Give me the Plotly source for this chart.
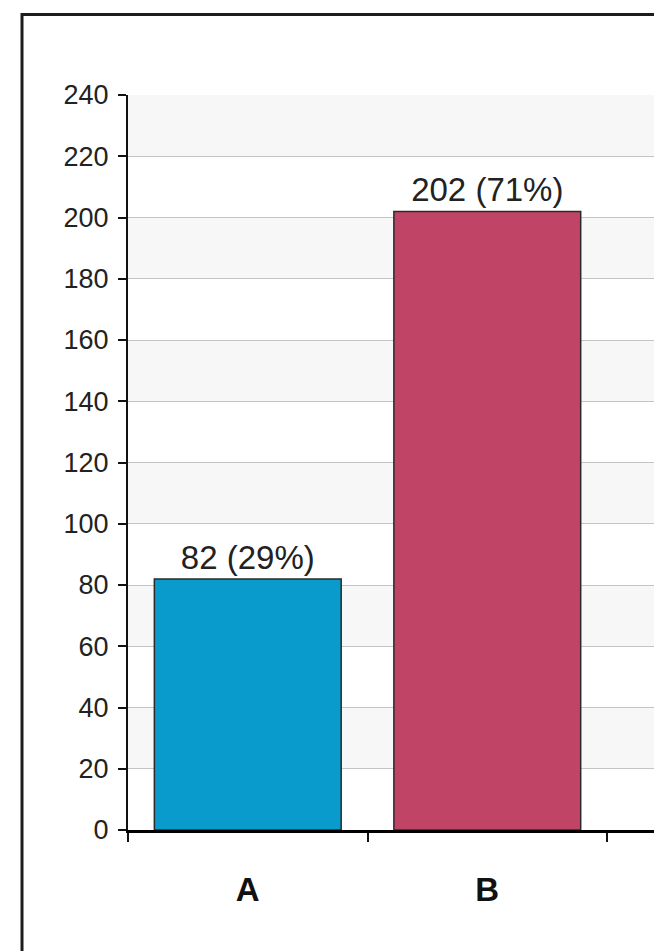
import plotly.graph_objects as go

# Response counts per answer option
categories = ["A", "B"]
counts = [82, 202]
bar_colors = ["#0a9bcd", "#c04465"]

# Value axis ticks
y_ticks = list(range(0, 241, 20))

total = sum(counts)
labels = [f"{c} ({round(100 * c / total)}%)" for c in counts]

fig = go.Figure(
    go.Bar(
        x=categories,
        y=counts,
        width=0.78,
        marker=dict(color=bar_colors, line=dict(color="#2a2a2a", width=1.5)),
        text=labels,
        textposition="outside",
        textfont=dict(family="Liberation Sans", size=33, color="#222222"),
        cliponaxis=False,
    )
)

# Alternating light bands behind the gridlines
shapes = []
for lo, hi in zip(y_ticks[:-1], y_ticks[1:]):
    if (lo // 20) % 2 == 1:
        shapes.append(dict(type="rect", xref="paper", yref="y", x0=0, x1=1,
                           y0=lo, y1=hi, fillcolor="#f7f7f7",
                           line=dict(width=0), layer="below"))

# Outer frame around the whole chart
shapes.append(dict(type="rect", xref="paper", yref="paper",
                   x0=-0.2015, x1=1.2, y0=-0.2, y1=1.1095,
                   line=dict(color="#1c1c1c", width=3),
                   fillcolor="rgba(0,0,0,0)", layer="above"))

fig.update_layout(
    width=654,
    height=951,
    margin=dict(l=128, r=0, t=95, b=121),
    paper_bgcolor="white",
    plot_bgcolor="white",
    showlegend=False,
    shapes=shapes,
    bargap=0.22,
)

fig.update_yaxes(
    range=[0, 240],
    tickvals=y_ticks,
    ticks="outside",
    ticklen=8,
    tickwidth=2,
    tickcolor="#111111",
    showline=True,
    linewidth=2,
    linecolor="#111111",
    showgrid=True,
    gridcolor="#c4c4c4",
    gridwidth=1,
    zeroline=False,
    ticklabelstandoff=4,
    tickfont=dict(family="Liberation Sans", size=27, color="#222222"),
)

fig.update_xaxes(
    type="category",
    range=[-0.5, 1.696],
    ticks="outside",
    tickson="boundaries",
    ticklen=9,
    tickwidth=2,
    tickcolor="#111111",
    showline=True,
    linewidth=3,
    linecolor="#000000",
    showgrid=False,
    ticklabelstandoff=28,
    tickfont=dict(family="Liberation Sans", size=33, color="#111111", weight="bold"),
)

fig.write_html("out.html")
